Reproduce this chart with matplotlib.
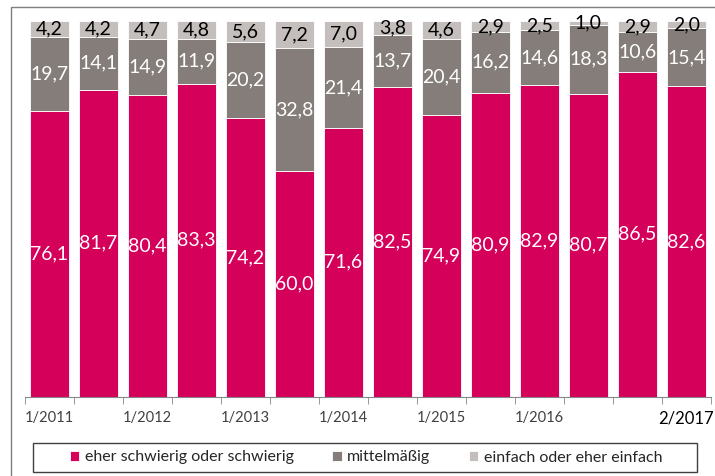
import numpy as np
import matplotlib
matplotlib.use('Agg')
from matplotlib import pyplot as plt
from matplotlib.patches import Rectangle

plt.rcParams['font.family'] = ['Lato', 'DejaVu Sans']

# Halbjahre
perioden = ['1/2011', '2/2011', '1/2012', '2/2012', '1/2013', '2/2013', '1/2014',
            '2/2014', '1/2015', '2/2015', '1/2016', '2/2016', '1/2017', '2/2017']
tick_labels = ['1/2011', '', '1/2012', '', '1/2013', '', '1/2014',
               '', '1/2015', '', '1/2016', '', '', '2/2017']

schwierig = [76.1, 81.7, 80.4, 83.3, 74.2, 60.0, 71.6, 82.5, 74.9, 80.9, 82.9, 80.7, 86.5, 82.6]
mittel = [19.7, 14.1, 14.9, 11.9, 20.2, 32.8, 21.4, 13.7, 20.4, 16.2, 14.6, 18.3, 10.6, 15.4]
einfach = [4.2, 4.2, 4.7, 4.8, 5.6, 7.2, 7.0, 3.8, 4.6, 2.9, 2.5, 1.0, 2.9, 2.0]

c_schwierig = '#D5005A'
c_mittel = '#857D79'
c_einfach = '#C4BFBC'

fig = plt.figure(figsize=(7.15, 4.76), dpi=100)
ax = fig.add_axes([0.035, 0.166, 0.959, 0.790])

x = np.arange(len(perioden))
s = np.array(schwierig)
m = np.array(mittel)
e = np.array(einfach)

b1 = ax.bar(x, s, width=0.8, color=c_schwierig, edgecolor='white', linewidth=0.6,
            label='eher schwierig oder schwierig')
b2 = ax.bar(x, m, width=0.8, bottom=s, color=c_mittel, edgecolor='white', linewidth=0.6,
            label='mittelmäßig')
b3 = ax.bar(x, e, width=0.8, bottom=s + m, color=c_einfach, edgecolor='white', linewidth=0.6,
            label='einfach oder eher einfach')

# Werte in die Segmente schreiben
for i in range(len(x)):
    ax.text(x[i], s[i] / 2, ('%.1f' % s[i]).replace('.', ','), ha='center', va='center',
            color='white', fontsize=14)
    ax.text(x[i], s[i] + m[i] / 2, ('%.1f' % m[i]).replace('.', ','), ha='center', va='center',
            color='white', fontsize=14)
    ax.text(x[i], s[i] + m[i] + e[i] / 2, ('%.1f' % e[i]).replace('.', ','), ha='center',
            va='center', color='black', fontsize=14)

ax.set_xlim(-0.5, len(x) - 0.5)
ax.set_ylim(0, 100)
ax.set_yticks([])
for sp in ['left', 'right', 'top']:
    ax.spines[sp].set_visible(False)
ax.spines['bottom'].set_color('#868686')

ax.set_xticks(x)
ax.set_xticklabels(tick_labels, fontsize=10.5, color='#404040')
ax.tick_params(axis='x', which='major', length=0, pad=10)
ax.set_xticks(np.arange(-0.5, len(x)), minor=True)
ax.tick_params(axis='x', which='minor', length=5, color='#868686')
lab = ax.get_xticklabels()[-1]
lab.set_fontsize(12)
lab.set_color('black')

# Rahmen um das ganze Bild
fig.patches.append(Rectangle((10.5 / 715, -0.1), 1.0, 1.1 - 7 / 476, transform=fig.transFigure,
                             fill=False, edgecolor='#7f7f7f', linewidth=1.0))
# Rahmen der Legende
fig.patches.append(Rectangle((33 / 715, 4 / 476), 664 / 715, 29 / 476, transform=fig.transFigure,
                             fill=False, edgecolor='#404040', linewidth=1.0))

leg = fig.legend(handles=[b1, b2, b3], loc='center', bbox_to_anchor=(366 / 715, 18.5 / 476),
                 ncol=3, frameon=False, fontsize=11.5, handlelength=0.6, handleheight=0.6,
                 handletextpad=0.35, columnspacing=2.4)
for t in leg.get_texts():
    t.set_color('#262626')

plt.savefig('out.png', dpi=100)
